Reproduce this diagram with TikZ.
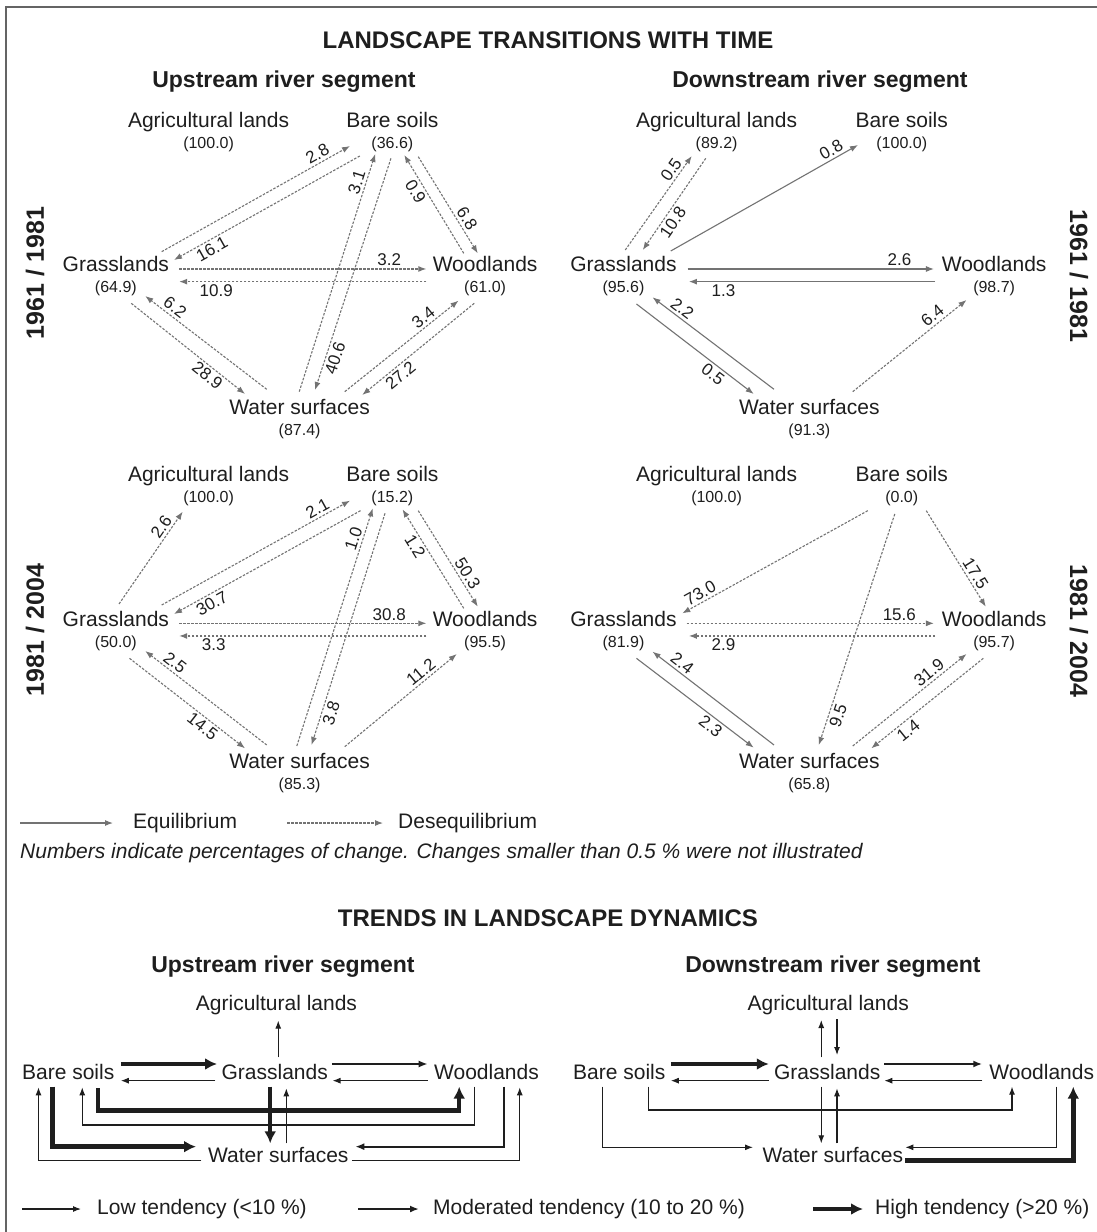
\documentclass[tikz,border=0pt]{standalone}
\usepackage{fontspec}
\setmainfont{Liberation Sans}
\usetikzlibrary{arrows.meta,calc}

\definecolor{ink}{RGB}{30,30,30}
\definecolor{arrowgrey}{RGB}{115,115,115}
\definecolor{framegrey}{RGB}{100,100,100}

\tikzset{
  lc/.style={font=\fontsize{21}{25}\selectfont, text=ink, inner sep=0pt, text height=15pt, text depth=4pt},
  val/.style={font=\fontsize{16}{19}\selectfont, text=ink, inner sep=1pt, yshift=-4pt},
  pct/.style={font=\fontsize{17}{20}\selectfont, text=ink, sloped, inner sep=2.5pt},
  eq/.style={draw=arrowgrey, line width=1.1pt, -{Latex[length=8pt,width=6pt]}},
  des/.style={eq, dash pattern=on 2.5pt off 1.5pt},
  low/.style={draw=ink, line width=1.1pt, -{Latex[length=8pt,width=6pt]}},
  mid/.style={draw=ink, line width=2.2pt, -{Latex[length=9pt,width=7pt]}},
  high/.style={draw=ink, line width=4.5pt, -{Latex[length=12pt,width=12pt]}},
  ttl/.style={font=\bfseries\fontsize{24}{29}\selectfont, text=ink},
  sub/.style={font=\bfseries\fontsize{23}{28}\selectfont, text=ink},
  per/.style={font=\bfseries\fontsize{25}{30}\selectfont, text=ink},
  leg/.style={font=\fontsize{21}{25}\selectfont, text=ink, anchor=west, inner sep=0pt},
}

\begin{document}
\begin{tikzpicture}[x=1pt, y=-1pt]

    \useasboundingbox (0,0) rectangle (1097,1232);
    \fill[white] (0,0) rectangle (1097,1232);
    % frame, only top and left show
    \draw[framegrey, line width=2.5pt] (6,1240) -- (6,7) -- (1100,7);

    % titles
    \node[ttl] (title) at (548,40) {LANDSCAPE TRANSITIONS WITH TIME};
    \node[sub] (upsub) at (284,82) {Upstream river segment};
    \node[sub] (dnsub) at (820,82) {Downstream river segment};

    \node[per, rotate=90] (perA) at (35,273) {1961 / 1981};
    \node[per, rotate=-90] (perB) at (1079,276) {1961 / 1981};
    \node[per, rotate=90] (perC) at (35,630) {1981 / 2004};
    \node[per, rotate=-90] (perD) at (1079,631) {1981 / 2004};

    % upstream 1961 / 1981
    \begin{scope}[shift={(0,90)}, x=0.35pt, y=-0.3333pt]
        \node[lc, label={[val]below:(100.0)}] (ag1) at (596,95) {Agricultural lands};
        \node[lc, label={[val]below:(36.6)}] (bs1) at (1121,95) {Bare soils};
        \node[lc, label={[val]below:(64.9)}] (gr1) at (331,528) {Grasslands};
        \node[lc, label={[val]below:(61.0)}] (wd1) at (1386,528) {Woodlands};
        \node[lc, label={[val]below:(87.4)}] (ws1) at (856,958) {Water surfaces};

        \draw[des] ($(gr1)+(131,-43)$) -- node[pct, pos=0.85, above] {2.8} ($(bs1)+(-121,73)$);
        \draw[des] ($(bs1)+(-93,103)$) -- node[pct, pos=0.82, below] {16.1} ($(gr1)+(166,-18)$);
        \draw[des] ($(gr1)+(181,9)$) -- node[pct, pos=0.85, above] {3.2} ($(wd1)+(-168,9)$);
        \draw[des] ($(wd1)+(-168,47)$) -- node[pct, pos=0.85, below] {10.9} ($(gr1)+(181,47)$);
        \draw[des] ($(gr1)+(44,112)$) -- node[pct, pos=0.72, below] {28.9} ($(ws1)+(-156,-46)$);
        \draw[des] ($(ws1)+(-94,-60)$) -- node[pct, pos=0.8, above] {6.2} ($(gr1)+(84,90)$);
        \draw[des] ($(ws1)+(-1,-53)$) -- node[pct, pos=0.87, above] {3.1} ($(bs1)+(-49,97)$);
        \draw[des] ($(bs1)+(-4,110)$) -- node[pct, pos=0.85, below] {40.6} ($(ws1)+(44,-58)$);
        \draw[des] ($(wd1)+(-61,-38)$) -- node[pct, pos=0.68, below] {0.9} ($(bs1)+(34,100)$);
        \draw[des] ($(bs1)+(74,105)$) -- node[pct, pos=0.69, above] {6.8} ($(wd1)+(-21,-38)$);
        \draw[des] ($(ws1)+(129,-53)$) -- node[pct, pos=0.74, above] {3.4} ($(wd1)+(-76,104)$);
        \draw[des] ($(wd1)+(-31,112)$) -- node[pct, pos=0.71, below] {27.2} ($(ws1)+(179,-43)$);
    \end{scope}

    % downstream 1961 / 1981
    \begin{scope}[shift={(550,90)}, x=0.35pt, y=-0.3333pt]
        \node[lc, label={[val]below:(89.2)}] (ag2) at (476,95) {Agricultural lands};
        \node[lc, label={[val]below:(100.0)}] (bs2) at (1005,95) {Bare soils};
        \node[lc, label={[val]below:(95.6)}] (gr2) at (210,528) {Grasslands};
        \node[lc, label={[val]below:(98.7)}] (wd2) at (1269,528) {Woodlands};
        \node[lc, label={[val]below:(91.3)}] (ws2) at (741,958) {Water surfaces};

        \draw[des] ($(gr2)+(5,-48)$) -- node[pct, pos=0.8, above] {0.5} ($(ag2)+(-71,103)$);
        \draw[des] ($(ag2)+(-31,110)$) -- node[pct, pos=0.64, below] {10.8} ($(gr2)+(55,-48)$);
        \draw[eq] ($(gr2)+(135,-45)$) -- node[pct, pos=0.88, above] {0.8} ($(bs2)+(-125,70)$);
        \draw[eq] ($(gr2)+(183,9)$) -- node[pct, pos=0.86, above] {2.6} ($(wd2)+(-172,9)$);
        \draw[eq] ($(wd2)+(-169,47)$) -- node[pct, pos=0.86, below] {1.3} ($(gr2)+(187,47)$);
        \draw[eq] ($(gr2)+(37,114)$) -- node[pct, pos=0.7, below] {0.5} ($(ws2)+(-159,-46)$);
        \draw[eq] ($(ws2)+(-101,-60)$) -- node[pct, pos=0.8, above] {2.2} ($(gr2)+(83,94)$);
        \draw[des] ($(ws2)+(124,-53)$) -- node[pct, pos=0.75, above] {6.4} ($(wd2)+(-79,102)$);
    \end{scope}

    % upstream 1981 / 2004
    \begin{scope}[shift={(0,450)}, x=0.35pt, y=-0.3333pt]
        \node[lc, label={[val]below:(100.0)}] (ag3) at (596,78) {Agricultural lands};
        \node[lc, label={[val]below:(15.2)}] (bs3) at (1121,78) {Bare soils};
        \node[lc, label={[val]below:(50.0)}] (gr3) at (331,513) {Grasslands};
        \node[lc, label={[val]below:(95.5)}] (wd3) at (1386,513) {Woodlands};
        \node[lc, label={[val]below:(85.3)}] (ws3) at (856,940) {Water surfaces};

        \draw[des] ($(gr3)+(9,-51)$) -- node[pct, pos=0.78, above] {2.6} ($(ag3)+(-74,107)$);
        \draw[des] ($(gr3)+(131,-48)$) -- node[pct, pos=0.85, above] {2.1} ($(bs3)+(-121,74)$);
        \draw[des] ($(bs3)+(-91,104)$) -- node[pct, pos=0.82, below] {30.7} ($(gr3)+(166,-21)$);
        \draw[des] ($(gr3)+(181,7)$) -- node[pct, pos=0.85, above] {30.8} ($(wd3)+(-168,7)$);
        \draw[des] ($(wd3)+(-168,45)$) -- node[pct, pos=0.86, below] {3.3} ($(gr3)+(181,45)$);
        \draw[des] ($(gr3)+(39,112)$) -- node[pct, pos=0.68, below] {14.5} ($(ws3)+(-156,-45)$);
        \draw[des] ($(ws3)+(-94,-55)$) -- node[pct, pos=0.8, above] {2.5} ($(gr3)+(84,90)$);
        \draw[des] ($(ws3)+(-8,-52)$) -- node[pct, pos=0.86, above] {1.0} ($(bs3)+(-56,97)$);
        \draw[des] ($(bs3)+(-21,112)$) -- node[pct, pos=0.85, below] {3.8} ($(ws3)+(34,-55)$);
        \draw[des] ($(wd3)+(-61,-38)$) -- node[pct, pos=0.67, below] {1.2} ($(bs3)+(29,100)$);
        \draw[des] ($(bs3)+(74,104)$) -- node[pct, pos=0.7, above] {50.3} ($(wd3)+(-21,-43)$);
        \draw[des] ($(ws3)+(129,-50)$) -- node[pct, pos=0.73, above] {11.2} ($(wd3)+(-81,99)$);
    \end{scope}

    % downstream 1981 / 2004
    \begin{scope}[shift={(550,450)}, x=0.35pt, y=-0.3333pt]
        \node[lc, label={[val]below:(100.0)}] (ag4) at (476,78) {Agricultural lands};
        \node[lc, label={[val]below:(0.0)}] (bs4) at (1005,78) {Bare soils};
        \node[lc, label={[val]below:(81.9)}] (gr4) at (210,513) {Grasslands};
        \node[lc, label={[val]below:(95.7)}] (wd4) at (1269,513) {Woodlands};
        \node[lc, label={[val]below:(65.8)}] (ws4) at (741,940) {Water surfaces};

        \draw[des] ($(bs4)+(-97,104)$) -- node[pct, pos=0.88, above] {73.0} ($(gr4)+(168,-23)$);
        \draw[des] ($(bs4)+(-20,114)$) -- node[pct, pos=0.86, below] {9.5} ($(ws4)+(27,-55)$);
        \draw[des] ($(bs4)+(70,104)$) -- node[pct, pos=0.7, above] {17.5} ($(wd4)+(-24,-43)$);
        \draw[des] ($(gr4)+(180,7)$) -- node[pct, pos=0.86, above] {15.6} ($(wd4)+(-172,7)$);
        \draw[des] ($(wd4)+(-169,45)$) -- node[pct, pos=0.86, below] {2.9} ($(gr4)+(187,45)$);
        \draw[eq] ($(gr4)+(37,112)$) -- node[pct, pos=0.68, below] {2.3} ($(ws4)+(-159,-47)$);
        \draw[eq] ($(ws4)+(-101,-55)$) -- node[pct, pos=0.8, above] {2.4} ($(gr4)+(83,92)$);
        \draw[des] ($(ws4)+(124,-52)$) -- node[pct, pos=0.72, above] {31.9} ($(wd4)+(-79,99)$);
        \draw[des] ($(wd4)+(-31,112)$) -- node[pct, pos=0.72, below] {1.4} ($(ws4)+(177,-45)$);
    \end{scope}

    % legend of the transitions
    \coordinate (eqtail) at (20,823);
    \node[leg] (eqtxt) at (133,823) {Equilibrium};
    \draw[eq] (eqtail) -- ($(eqtxt.west)+(-20,0)$);
    \coordinate (destail) at (287,823);
    \node[leg] (destxt) at (398,823) {Desequilibrium};
    \draw[des] (destail) -- ($(destxt.west)+(-15,0)$);
    \node[leg, font=\itshape\fontsize{21}{25}\selectfont] (note) at (20,853)
        {Numbers indicate percentages of change. Changes smaller than 0.5 \% were not illustrated};

    % trends
    \node[ttl] (trtitle) at (548,918) {TRENDS IN LANDSCAPE DYNAMICS};
    \node[sub] (upsubb) at (283,967) {Upstream river segment};
    \node[sub] (dnsubb) at (833,967) {Downstream river segment};

    \begin{scope}[shift={(0,950)}, x=0.35pt, y=-0.3333pt]
        \node[lc] (ag5) at (790,165) {Agricultural lands};
        \node[lc] (bs5) at (195,372) {Bare soils};
        \node[lc] (gr5) at (785,372) {Grasslands};
        \node[lc] (wd5) at (1390,372) {Woodlands};
        \node[lc] (ws5) at (795,620) {Water surfaces};

        \draw[low] ($(gr5)+(10,-50)$) -- ($(ag5)+(5,47)$);
        \draw[high] ($(bs5)+(150,-30)$) -- ($(gr5)+(-165,-30)$);
        \draw[low] ($(gr5)+(-170,20)$) -- ($(bs5)+(150,20)$);
        \draw[mid] ($(gr5)+(163,-30)$) -- ($(wd5)+(-168,-30)$);
        \draw[low] ($(wd5)+(-168,20)$) -- ($(gr5)+(165,20)$);
        \draw[high] ($(bs5)+(85,43)$) -- ++(0,67) -| ($(wd5)+(-78,38)$);
        \draw[low] ($(wd5)+(-35,38)$) -- ++(0,115) -| ($(bs5)+(40,40)$);
        \draw[high] ($(gr5)+(-13,38)$) -- ($(ws5)+(-23,-40)$);
        \draw[low] ($(ws5)+(23,-40)$) -- ($(gr5)+(33,43)$);
        \draw[high] ($(bs5)+(-45,38)$) |- ($(ws5)+(-235,-30)$);
        \draw[low] ($(ws5)+(-220,12)$) -| ($(bs5)+(-85,40)$);
        \draw[mid] ($(wd5)+(50,38)$) |- ($(ws5)+(220,-30)$);
        \draw[low] ($(ws5)+(210,12)$) -| ($(wd5)+(95,40)$);
    \end{scope}

    \begin{scope}[shift={(550,950)}, x=0.35pt, y=-0.3333pt]
        \node[lc] (ag6) at (795,165) {Agricultural lands};
        \node[lc] (bs6) at (198,372) {Bare soils};
        \node[lc] (gr6) at (792,372) {Grasslands};
        \node[lc] (wd6) at (1405,372) {Woodlands};
        \node[lc] (ws6) at (808,620) {Water surfaces};

        \draw[low] ($(gr6)+(-17,-50)$) -- ($(ag6)+(-20,45)$);
        \draw[low] ($(ag6)+(25,43)$) -- ($(gr6)+(28,-57)$);
        \draw[high] ($(bs6)+(147,-30)$) -- ($(gr6)+(-167,-30)$);
        \draw[low] ($(gr6)+(-167,20)$) -- ($(bs6)+(147,20)$);
        \draw[mid] ($(gr6)+(163,-30)$) -- ($(wd6)+(-170,-30)$);
        \draw[low] ($(wd6)+(-170,20)$) -- ($(gr6)+(163,20)$);
        \draw[low] ($(bs6)+(84,38)$) -- ++(0,70) -| ($(wd6)+(-85,38)$);
        \draw[low] ($(gr6)+(-17,38)$) -- ($(ws6)+(-33,-40)$);
        \draw[low] ($(ws6)+(12,-40)$) -- ($(gr6)+(28,43)$);
        \draw[low] ($(bs6)+(-48,38)$) |- ($(ws6)+(-228,-28)$);
        \draw[low] ($(wd6)+(43,38)$) |- ($(ws6)+(207,-28)$);
        \draw[high] ($(ws6)+(207,12)$) -| ($(wd6)+(90,38)$);
    \end{scope}

    % legend of the trends
    \coordinate (lowtail) at (22,1209);
    \node[leg] (lowtxt) at (97,1209) {Low tendency (<10 \%)};
    \draw[low] (lowtail) -- ($(lowtxt.west)+(-16,0)$);
    \coordinate (midtail) at (358,1209);
    \node[leg] (midtxt) at (433,1209) {Moderated tendency (10 to 20 \%)};
    \draw[mid] (midtail) -- ($(midtxt.west)+(-14,0)$);
    \coordinate (hightail) at (813,1209);
    \node[leg] (hightxt) at (875,1209) {High tendency (>20 \%)};
    \draw[high] (hightail) -- ($(hightxt.west)+(-12,0)$);

\end{tikzpicture}
\end{document}
